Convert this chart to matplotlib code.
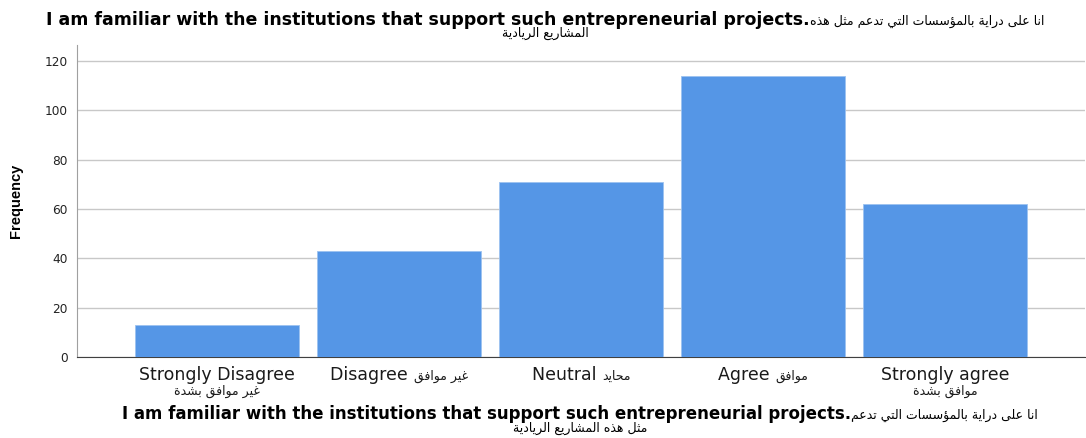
import matplotlib
matplotlib.use("Agg")
from matplotlib import pyplot as plt
import numpy as np

# glyph forms: (isolated, final, initial, medial); None for right-joining letters
FORMS = {
	'ا': (0xFE8D, 0xFE8E, None, None), 'ب': (0xFE8F, 0xFE90, 0xFE91, 0xFE92),
	'ة': (0xFE93, 0xFE94, None, None), 'ت': (0xFE95, 0xFE96, 0xFE97, 0xFE98),
	'ث': (0xFE99, 0xFE9A, 0xFE9B, 0xFE9C), 'ح': (0xFEA1, 0xFEA2, 0xFEA3, 0xFEA4),
	'د': (0xFEA9, 0xFEAA, None, None), 'ذ': (0xFEAB, 0xFEAC, None, None),
	'ر': (0xFEAD, 0xFEAE, None, None), 'س': (0xFEB1, 0xFEB2, 0xFEB3, 0xFEB4),
	'ش': (0xFEB5, 0xFEB6, 0xFEB7, 0xFEB8), 'ع': (0xFEC9, 0xFECA, 0xFECB, 0xFECC),
	'غ': (0xFECD, 0xFECE, 0xFECF, 0xFED0), 'ف': (0xFED1, 0xFED2, 0xFED3, 0xFED4),
	'ق': (0xFED5, 0xFED6, 0xFED7, 0xFED8), 'ل': (0xFEDD, 0xFEDE, 0xFEDF, 0xFEE0),
	'م': (0xFEE1, 0xFEE2, 0xFEE3, 0xFEE4), 'ن': (0xFEE5, 0xFEE6, 0xFEE7, 0xFEE8),
	'ه': (0xFEE9, 0xFEEA, 0xFEEB, 0xFEEC), 'و': (0xFEED, 0xFEEE, None, None),
	'ى': (0xFEEF, 0xFEF0, None, None), 'ي': (0xFEF1, 0xFEF2, 0xFEF3, 0xFEF4),
	'ؤ': (0xFE85, 0xFE86, None, None),
}

def ar(s):
	#shape arabic letters and reverse them into visual (left to right) order
	out = []
	for i, c in enumerate(s):
		if c not in FORMS:
			out.append(c)
			continue
		prev = s[i-1] if i > 0 else ' '
		nxt = s[i+1] if i < len(s)-1 else ' '
		join_prev = prev in FORMS and FORMS[prev][2] is not None
		join_next = FORMS[c][2] is not None and nxt in FORMS
		iso, fin, ini, med = FORMS[c]
		if join_prev and join_next: code = med
		elif join_prev: code = fin
		elif join_next: code = ini
		else: code = iso
		out.append(chr(code))
	return ''.join(out[::-1])

english = "I am familiar with the institutions that support such entrepreneurial projects."
categories_en = ["Strongly Disagree", "Disagree", "Neutral", "Agree", "Strongly agree"]
categories_ar = [ar("غير موافق بشدة"), ar("غير موافق"), ar("محايد"), ar("موافق"), ar("موافق بشدة")]
two_lines = [True, False, False, False, True]
frequency = [13, 43, 71, 114, 62]
yticks = [0, 20, 40, 60, 80, 100, 120]

title_ar1 = ar("انا على دراية بالمؤسسات التي تدعم مثل هذه")
title_ar2 = ar("المشاريع الريادية")
xtitle_ar1 = ar("انا على دراية بالمؤسسات التي تدعم")
xtitle_ar2 = ar("مثل هذه المشاريع الريادية")

plt.rcParams['font.family'] = ['DejaVu Sans']

W, H = 1086, 438
fig = plt.figure(figsize=(W/100, H/100), dpi=100)
ax = fig.add_axes([0.0709, 0.1849, 0.9282, 0.7124])
r = fig.canvas.get_renderer()

x = np.arange(len(frequency))
ax.bar(x, frequency, width=0.9, color="#5596E6", edgecolor="#9cc2f0", linewidth=0.6, zorder=3)

ax.set_xlim(-0.77, 4.77)
ax.set_ylim(0, 126.5)
ax.set_yticks(yticks)
ax.yaxis.grid(True, color="#c8c8c8", linewidth=1.0, zorder=0)
ax.set_xticks(x, labels=[""]*len(x))
ax.tick_params(axis="y", labelsize=8.7, length=0, pad=6.5, labelcolor="#222222")
ax.tick_params(axis="x", length=0)
for s in ["top", "right"]:
	ax.spines[s].set_visible(False)
ax.spines["left"].set_color("#a0a0a0")
ax.spines["bottom"].set_color("#404040")

ax.set_ylabel("Frequency", fontsize=10.5, fontweight="bold",
	family=['Liberation Sans'], labelpad=16)

def pair(xc, y, left, right, lkw, rkw):
	#left text followed directly by right text, both centred together on xc (pixels)
	t1 = fig.text(0, y/H, left, ha="left", va="baseline", **lkw)
	t2 = fig.text(0, y/H, right, ha="left", va="baseline", **rkw)
	w1 = t1.get_window_extent(r).width
	w2 = t2.get_window_extent(r).width
	x0 = xc - (w1 + w2)/2
	t1.set_x(x0/W)
	t2.set_x((x0 + w1)/W)

#category labels under the bars
lab_kw = dict(fontsize=12.5, color="#1a1a1a")
arab_kw = dict(fontsize=9, color="#1a1a1a")
for i in x:
	xc = ax.transData.transform((i, 0))[0]
	if two_lines[i]:
		fig.text(xc/W, 1-380/H, categories_en[i], ha="center", va="baseline", **lab_kw)
		fig.text(xc/W, 1-395/H, categories_ar[i], ha="center", va="baseline", **arab_kw)
	else:
		pair(xc, H-380, categories_en[i] + " ", categories_ar[i], lab_kw, arab_kw)

#titles: bold english then the arabic in a smaller face
big = dict(fontsize=12.5, fontweight="bold")
small = dict(fontsize=9)
pair(545, H-25, english, title_ar1, big, small)
fig.text(545/W, 1-37/H, title_ar2, ha="center", va="baseline", **small)
big["fontsize"] = 12
pair(580, H-419, english, xtitle_ar1, big, small)
fig.text(580/W, 1-432/H, xtitle_ar2, ha="center", va="baseline", **small)

plt.savefig("out.png", dpi=100)
